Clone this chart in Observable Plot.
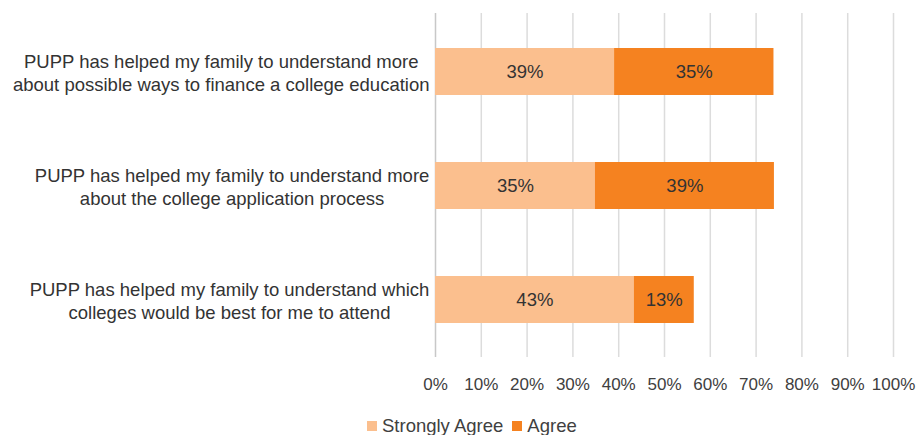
<!DOCTYPE html>
<html>
<head>
<meta charset="utf-8">
<script src="https://cdn.jsdelivr.net/npm/d3@7"></script>
<script src="https://cdn.jsdelivr.net/npm/@observablehq/plot@0.6"></script>
<style>
  html, body { margin: 0; padding: 0; background: #fff; }
  body { width: 920px; height: 435px; overflow: hidden; font-family: "Liberation Sans", Arial, sans-serif; }
  #legend { position: absolute; left: 367px; top: 414px; display: flex; align-items: center; font-size: 18.5px; color: #404040; line-height: 24px; }
  #legend .item { display: flex; align-items: center; margin-right: 9px; }
  #legend .sw { width: 10px; height: 10px; margin-right: 5px; }
</style>
</head>
<body>
<div id="chart"></div>
<div id="legend"></div>
<script>
const categories = [
  "PUPP has helped my family to understand more\nabout possible ways to finance a college education",
  "PUPP has helped my family to understand more\nabout the college application process",
  "PUPP has helped my family to understand which\ncolleges would be best for me to attend"
];
const seriesNames = ["Strongly Agree", "Agree"];
const stronglyAgree = [39.1, 34.9, 43.4];
const agree = [34.8, 39.1, 13.1];
const xTicks = [0, 10, 20, 30, 40, 50, 60, 70, 80, 90, 100];
const colors = ["#FBBF8E", "#F58220"];

const rows = [];
categories.forEach((c, i) => {
  rows.push({cat: c, series: seriesNames[0], value: stronglyAgree[i]});
  rows.push({cat: c, series: seriesNames[1], value: agree[i]});
});

const fontFamily = '"Liberation Sans", Arial, sans-serif';
const labelSize = 18.5;
const ctx = document.createElement("canvas").getContext("2d");
ctx.font = `${labelSize}px ${fontFamily}`;

const labelMarks = categories.map(c => {
  const w = d3.max(c.split("\n"), l => ctx.measureText(l).width);
  return Plot.text([c], {
    y: d => d, text: d => d, frameAnchor: "left", textAnchor: "middle",
    dx: -(6 + w / 2), lineHeight: 23 / labelSize, fill: "#333", fontSize: labelSize
  });
});

const chart = Plot.plot({
  width: 920,
  height: 405,
  marginLeft: 435,
  marginRight: 27,
  marginTop: 13,
  marginBottom: 48,
  style: {fontFamily, fontSize: "17px", color: "#404040", background: "#fff"},
  x: {domain: [0, 100], ticks: xTicks, tickFormat: d => d + "%", tickSize: 0, tickPadding: 20, label: null},
  y: {domain: categories, paddingInner: 0.59, paddingOuter: 0.295, axis: null},
  color: {domain: seriesNames, range: colors},
  marks: [
    Plot.ruleX(xTicks, {x: d => d, stroke: d => d === 0 ? "#c8c8c8" : "#dcdcdc", strokeWidth: 1.5}),
    Plot.barX(rows, Plot.stackX({y: "cat", x: "value", fill: "series"})),
    Plot.text(rows, Plot.stackX({y: "cat", x: "value", text: d => Math.round(d.value) + "%", fill: "#333", fontSize: 18.5})),
    ...labelMarks
  ]
});
document.getElementById("chart").appendChild(chart);

const legend = document.getElementById("legend");
seriesNames.forEach((s, i) => {
  const item = document.createElement("div");
  item.className = "item";
  const sw = document.createElement("span");
  sw.className = "sw";
  sw.style.background = colors[i];
  item.appendChild(sw);
  item.appendChild(document.createTextNode(s));
  legend.appendChild(item);
});
</script>
</body>
</html>
